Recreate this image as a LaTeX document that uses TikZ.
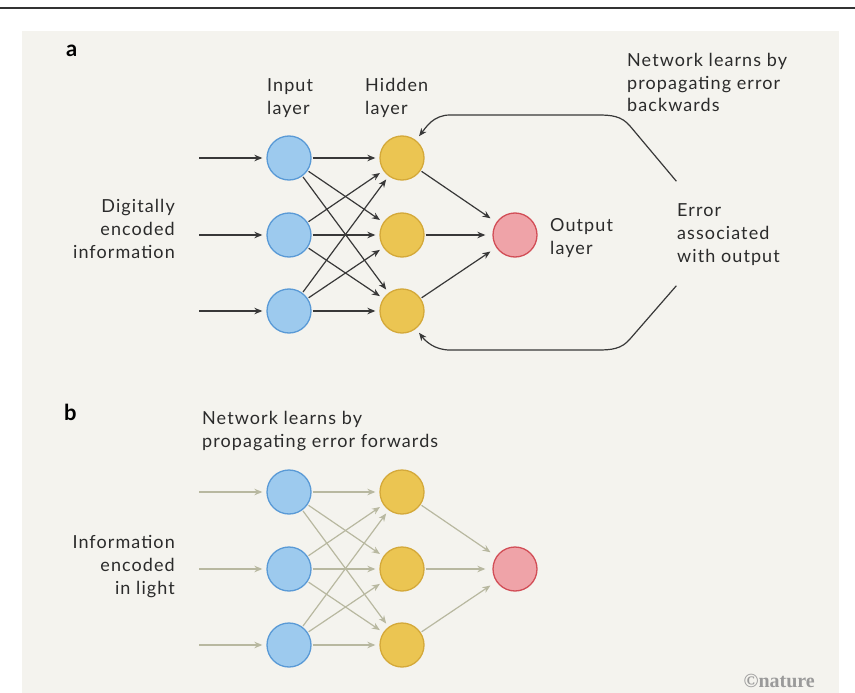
\documentclass[tikz,border=0pt]{standalone}
\usepackage{fontspec}
\setmainfont{Lato}[LetterSpace=6]
\newfontfamily\panelfont{Lato}
\newfontfamily\logofont{Liberation Serif}
\usetikzlibrary{arrows.meta}
\definecolor{bgc}{HTML}{F4F3EE}
\definecolor{bluef}{HTML}{9DCAEE}
\definecolor{blued}{HTML}{5A9AD6}
\definecolor{yelf}{HTML}{EBC552}
\definecolor{yeld}{HTML}{D4A93A}
\definecolor{pinkf}{HTML}{EFA3A8}
\definecolor{pinkd}{HTML}{D24E57}
\definecolor{darkarr}{HTML}{383838}
\definecolor{lightarr}{HTML}{B8B8A0}
\definecolor{txt}{HTML}{2B2B2B}
\definecolor{logogray}{HTML}{9A9A9A}
\begin{document}
\begin{tikzpicture}[x=1pt,y=-1pt,
  neuron/.style={circle,minimum size=44pt,inner sep=0pt,line width=1.3pt},
  inp/.style={neuron,fill=bluef,draw=blued},
  hid/.style={neuron,fill=yelf,draw=yeld},
  outn/.style={neuron,fill=pinkf,draw=pinkd},
  arr/.style={-{Stealth[length=8pt,width=6.5pt]},line width=1.2pt,shorten >=4pt,shorten <=1pt},
  darkc/.style={arr,draw=darkarr},
  lightc/.style={arr,draw=lightarr},
  lbl/.style={font=\fontsize{18}{23}\selectfont,text=txt,inner sep=0pt,anchor=base west,align=left},
  lblr/.style={font=\fontsize{18}{23}\selectfont,text=txt,inner sep=0pt,anchor=base east,align=right},
  panel/.style={font=\fontsize{22}{23}\selectfont\panelfont\bfseries,text=black,inner sep=0pt,anchor=base west}
]
\useasboundingbox (0,0) rectangle (855,693);
\fill[white] (0,0) rectangle (855,693);
\draw[line width=2pt,black!80] (0,8) -- (855,8);
\fill[bgc] (22,31) rectangle (839,693);

% ---------- panel a ----------
\node[panel] (ta) at (66,57) {a};
\node[lbl] (tnet) at (627,112) {Network learns by\\propagating error\\backwards};
\node[lbl] (tin) at (267,114) {Input\\layer};
\node[lbl] (thid) at (365,114) {Hidden\\layer};
\node[lblr] (tdig) at (175,258) {Digitally\\encoded\\information};
\node[lbl] (tout) at (550,254) {Output\\layer};
\node[lbl] (terr) at (677,262) {Error\\associated\\with output};

\node[inp] (ia1) at (289,158) {};
\node[inp] (ia2) at (289,235) {};
\node[inp] (ia3) at (289,311) {};
\node[hid] (ha1) at (402,158) {};
\node[hid] (ha2) at (402,235) {};
\node[hid] (ha3) at (402,311) {};
\node[outn] (oa) at (515,235) {};

\coordinate (sa1) at (198,158);
\coordinate (sa2) at (198,235);
\coordinate (sa3) at (198,311);
\foreach \i in {1,2,3}{
  \draw[darkc] (sa\i) -- (ia\i);
  \foreach \j in {1,2,3}{
    \draw[darkc] (ia\i) -- (ha\j);
  }
  \draw[darkc,shorten >=7pt] (ha\i) -- (oa);
}
\coordinate (eta) at (677,182);
\coordinate (eba) at (677,285);
\draw[darkc,shorten >=5pt] (eta) -- (630,126) to[out=130,in=0] (598,115) -- (450,115) to[out=180,in=52] (ha1);
\draw[darkc,shorten >=5pt] (eba) -- (630,339) to[out=-130,in=0] (598,350) -- (450,350) to[out=180,in=-52] (ha3);

% ---------- panel b ----------
\node[panel] (tb) at (64,420) {b};
\node[lbl] (tnetb) at (202,447) {Network learns by\\propagating error forwards};
\node[lblr] (tinfo) at (175,594) {Information\\encoded\\in light};

\node[inp] (ib1) at (289,492) {};
\node[inp] (ib2) at (289,569) {};
\node[inp] (ib3) at (289,645) {};
\node[hid] (hb1) at (402,492) {};
\node[hid] (hb2) at (402,569) {};
\node[hid] (hb3) at (402,645) {};
\node[outn] (ob) at (515,569) {};

\coordinate (sb1) at (198,492);
\coordinate (sb2) at (198,569);
\coordinate (sb3) at (198,645);
\foreach \i in {1,2,3}{
  \draw[lightc] (sb\i) -- (ib\i);
  \foreach \j in {1,2,3}{
    \draw[lightc] (ib\i) -- (hb\j);
  }
  \draw[lightc,shorten >=7pt] (hb\i) -- (ob);
}

\node[font=\fontsize{20}{22}\selectfont\logofont\bfseries,text=logogray,inner sep=0pt,anchor=base east] (tlogo) at (815,687) {©nature};
\end{tikzpicture}
\end{document}
